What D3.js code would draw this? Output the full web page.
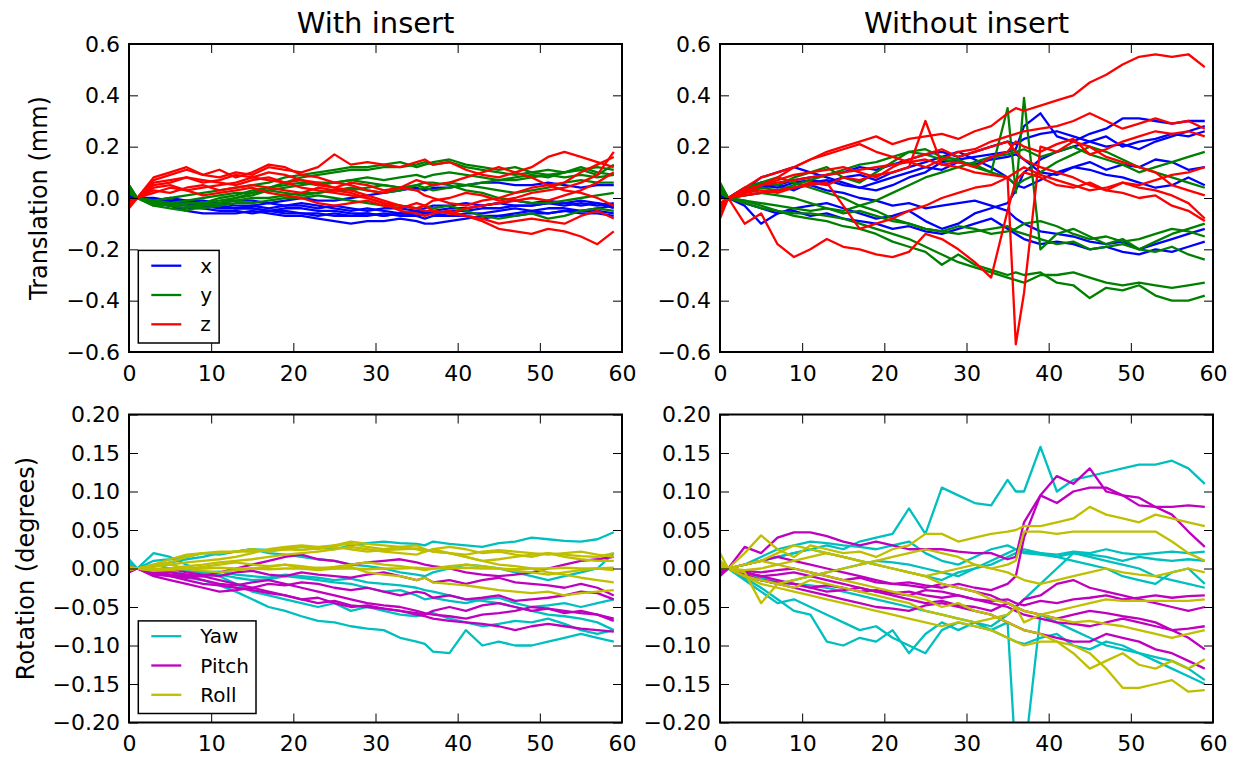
<!DOCTYPE html>
<html>
<head>
<meta charset="utf-8">
<script src="https://cdn.jsdelivr.net/npm/d3@7"></script>
<style>
body { margin: 0; background: #fff; }
svg { display: block; }
text { font-family: "DejaVu Sans", sans-serif; }
</style>
</head>
<body>
<svg id="chart" width="1239" height="758"></svg>
<script>
// sample times (s) shared by every trace
var seconds = [0,1,3,5,7,9,11,13,15,17,19,21,23,25,27,29,31,33,35,36,37,39,41,43,45,47,49,51,53,55,57,59];

var timeTicks = [0,10,20,30,40,50,60];
var transTicks = [-0.6,-0.4,-0.2,0,0.2,0.4,0.6];
var rotTicks = [-0.2,-0.15,-0.1,-0.05,0,0.05,0.1,0.15,0.2];

// translation values are in 0.01 mm, rotation values in 0.001 degrees
var transUnit = 0.01;
var rotUnit = 0.001;

var withX = [
  [1,0,-2,-3,-5,-6,-6,-6,-5,-6,-7,-7,-8,-9,-10,-9,-9,-8,-9,-10,-10,-9,-8,-7,-7,-6,-5,-6,-5,-6,-6,-7],
  [0,0,-1,-2,-2,-3,-4,-4,-4,-5,-5,-6,-6,-7,-7,-6,-7,-6,-7,-6,-6,-7,-6,-6,-5,-4,-5,-4,-4,-5,-5,-6],
  [2,0,0,-1,-1,-2,-2,-3,-3,-2,-3,-3,-4,-3,-4,-5,-4,-4,-5,-4,-3,-3,-2,-3,-2,-3,-3,-2,-3,-2,-3,-2],
  [-1,0,-1,0,-1,-1,-2,-1,-1,-2,-1,0,-1,-1,0,1,2,3,4,3,4,4,5,6,6,5,5,6,5,4,5,5],
  [0,0,-2,-3,-4,-4,-5,-5,-6,-5,-6,-6,-7,-6,-7,-7,-6,-7,-7,-8,-7,-7,-7,-8,-7,-7,-6,-6,-5,-5,-4,-3],
  [1,0,-1,-1,-2,-3,-3,-4,-4,-5,-4,-4,-5,-5,-6,-6,-7,-6,-6,-5,-6,-5,-5,-4,-4,-3,-3,-2,-2,-3,-2,-4],
  [0,0,-1,-2,-3,-2,-3,-4,-3,-4,-3,-2,-3,-4,-5,-4,-5,-6,-5,-6,-5,-4,-4,-3,-2,-1,-2,-1,-2,-1,-2,-3]
];
var withY = [
  [5,0,-3,-4,-5,-3,-2,0,2,4,6,8,9,10,11,11,12,12,13,14,13,14,12,11,10,9,10,11,10,11,12,11],
  [4,0,-2,-3,-4,-2,-1,0,1,3,4,5,6,6,7,8,7,8,9,8,9,10,9,8,7,8,9,8,10,11,9,13],
  [3,0,-2,-2,-3,-3,-2,-1,0,0,1,2,2,3,3,4,5,4,3,4,5,6,5,6,7,7,8,9,8,9,8,9],
  [5,0,-1,-2,-3,-4,-3,-2,-2,-1,0,0,1,0,-1,-2,-3,-3,-4,-3,-4,-3,-5,-7,-8,-7,-6,-8,-7,-5,-4,-5],
  [2,0,-3,-2,-1,0,1,2,2,3,2,1,2,3,4,3,2,3,5,4,3,4,5,4,3,2,3,4,6,7,6,6],
  [4,0,-2,-3,-2,-2,0,1,3,4,5,6,5,6,7,6,5,4,5,6,6,5,3,2,0,-1,-2,-2,-1,0,1,2],
  [3,0,-1,0,1,2,3,4,5,6,8,9,10,11,12,12,13,14,12,13,14,15,13,12,11,12,10,9,10,12,10,9]
];
var withZ = [
  [-3,0,7,9,11,9,8,10,9,12,11,10,12,17,13,14,13,12,14,15,13,14,11,9,8,10,12,16,18,16,14,12],
  [-2,0,5,6,8,7,6,5,7,8,6,4,3,2,1,0,-2,-3,-4,-5,-5,-6,-7,-9,-12,-13,-14,-12,-13,-15,-18,-13],
  [-3,0,4,5,3,4,5,6,8,10,9,7,6,4,3,1,-1,-3,-4,-3,-5,-6,-4,-3,-2,-1,0,-1,1,3,6,10],
  [-1,0,3,2,4,5,3,4,5,4,3,2,4,3,2,0,-2,-5,-6,-7,-6,-5,-7,-8,-10,-9,-8,-9,-10,-7,-5,-8],
  [-3,0,6,7,8,6,7,9,8,7,6,7,5,4,6,5,3,4,7,6,5,6,8,10,12,10,8,5,6,10,13,16],
  [-2,0,2,4,3,1,2,3,4,2,1,0,-2,-3,-2,-1,-3,-4,-2,-3,-1,0,2,1,-1,0,2,3,4,6,9,18],
  [-4,0,8,10,12,9,11,8,10,13,12,9,8,6,5,3,2,4,3,1,0,-2,-3,-1,0,2,4,5,3,2,0,-3]
];

var withoutX = [
  [3,0,3,8,10,12,10,8,6,4,3,5,8,10,14,15,16,17,18,19,28,33,24,22,25,27,31,31,30,29,30,30],
  [2,0,-3,-10,-6,-4,-3,-2,-4,-6,-8,-7,-5,-9,-12,-10,-6,-4,-2,3,10,15,18,20,22,24,20,22,23,25,24,26],
  [0,0,2,4,5,3,6,7,5,4,6,8,10,12,11,14,13,15,16,17,15,10,9,12,14,11,13,12,15,14,11,12],
  [1,0,-2,-4,-6,-5,-7,-6,-8,-9,-10,-12,-11,-13,-14,-12,-10,-8,-12,-14,-16,-18,-17,-18,-20,-19,-21,-22,-20,-21,-19,-17],
  [0,0,1,2,3,4,5,3,2,0,-1,-3,-2,-4,-3,-2,-1,-3,-5,-8,-10,-13,-14,-15,-17,-18,-17,-20,-18,-16,-14,-12],
  [2,0,3,5,4,6,7,6,8,9,7,10,12,14,16,18,15,12,8,5,4,7,10,12,11,9,8,6,4,5,8,5],
  [1,0,4,6,5,7,8,9,10,12,11,13,15,17,18,16,18,20,22,21,23,25,26,24,22,20,21,19,22,24,26,28]
];
var withoutY = [
  [6,0,-1,-3,-5,-6,-6,-7,-8,-10,-12,-14,-16,-19,-22,-25,-27,-29,-31,-32,-33,-30,-30,-29,-31,-33,-34,-33,-34,-35,-34,-33],
  [5,0,-2,-4,-5,-7,-8,-9,-11,-12,-14,-17,-19,-21,-26,-22,-26,-28,-30,-29,-30,-29,-33,-34,-39,-35,-36,-34,-38,-40,-40,-38],
  [3,0,3,6,5,8,10,12,8,6,10,14,18,19,16,15,12,10,35,2,39,-20,-14,-12,-15,-18,-16,-20,-17,-14,-12,-10],
  [2,0,4,6,8,6,4,2,0,-3,-5,-8,-10,-12,-13,-14,-13,-12,-11,-13,-14,-16,-18,-17,-20,-19,-18,-20,-21,-19,-22,-24],
  [4,0,-1,-2,-3,-4,-5,-4,-5,-3,-1,2,5,8,10,12,14,16,17,18,19,16,18,20,17,15,13,10,12,14,16,18],
  [5,0,1,2,1,0,-2,-4,-6,-5,-7,-9,-10,-12,-13,-11,-12,-14,-13,-12,-10,-9,-11,-14,-16,-15,-17,-16,-14,-12,-13,-15],
  [3,0,2,4,3,5,7,9,11,13,14,16,18,17,15,14,13,10,8,5,7,10,14,17,20,18,15,12,10,8,6,4]
];
var withoutZ = [
  [-8,0,2,5,8,12,15,18,20,22,24,21,23,24,25,23,26,28,33,35,34,36,38,40,45,48,52,55,56,55,56,51],
  [-5,0,3,5,6,7,8,9,10,11,12,13,14,15,13,12,10,9,8,-57,-37,20,18,22,20,16,14,12,10,5,3,1],
  [-6,0,-10,-6,-18,-23,-20,-16,-19,-20,-22,-23,-21,-14,-16,-20,-25,-31,-5,7,10,8,5,4,6,3,2,0,1,-3,-5,-9],
  [-2,0,4,8,10,12,15,17,19,21,18,16,14,12,15,18,19,22,24,25,26,27,28,30,33,30,27,29,31,29,30,27],
  [-4,0,3,5,7,9,10,11,12,10,8,12,15,17,19,16,18,20,22,18,15,12,10,8,5,3,6,4,3,1,-2,-8],
  [-3,0,2,3,2,4,6,5,8,7,9,10,12,30,13,14,12,16,18,22,20,18,21,23,17,19,22,24,26,25,26,24],
  [-5,0,1,2,3,4,5,6,-3,-12,-10,-8,-5,-3,0,2,4,5,8,10,12,9,7,5,3,4,6,5,7,9,10,12]
];

var withYaw = [
  [12,0,-5,-8,-12,-15,-22,-30,-40,-50,-55,-62,-68,-70,-75,-78,-80,-90,-95,-98,-108,-110,-80,-100,-95,-100,-100,-95,-90,-85,-90,-95],
  [5,0,20,15,5,-5,-10,-20,-30,-35,-40,-45,-50,-45,-55,-50,-55,-60,-62,-60,-58,-65,-70,-75,-72,-68,-70,-65,-72,-80,-85,-80],
  [0,0,10,12,15,20,18,22,25,24,26,28,27,25,30,33,35,33,32,30,35,32,30,28,33,35,40,38,36,35,38,47],
  [8,0,-5,-3,-8,-10,-8,-12,-15,-14,-10,-12,-15,-18,-20,-25,-30,-28,-35,-40,-38,-42,-45,-40,-38,-45,-50,-48,-45,-50,-45,-40],
  [3,0,5,0,-3,-5,-4,-8,-10,-12,-8,-10,-12,-15,-13,-18,-20,-22,-25,-28,-30,-35,-40,-42,-45,-50,-55,-60,-62,-65,-70,-80],
  [2,0,3,8,12,15,20,22,25,20,18,15,12,10,5,3,0,-5,-8,-10,-5,0,5,3,0,-5,-10,-15,-10,-5,0,20]
];
var withPitch = [
  [-5,0,-10,-15,-20,-25,-30,-28,-25,-30,-35,-40,-38,-45,-50,-48,-52,-55,-60,-62,-65,-68,-70,-72,-75,-80,-75,-72,-75,-78,-80,-82],
  [-3,0,-5,-8,-10,-15,-20,-22,-18,-15,-20,-25,-30,-35,-40,-45,-48,-50,-55,-58,-60,-62,-65,-60,-58,-55,-50,-52,-55,-58,-60,-68],
  [0,0,-3,-5,-8,-10,-5,0,5,10,15,18,12,10,5,8,10,12,8,5,3,0,-5,-8,-10,-8,-5,0,5,10,12,15],
  [-2,0,-8,-10,-15,-20,-22,-25,-28,-32,-35,-40,-45,-42,-48,-50,-52,-55,-58,-60,-55,-50,-55,-48,-45,-50,-55,-52,-58,-55,-60,-65],
  [2,0,-2,0,-5,-8,-10,-5,-3,-8,-10,-5,-8,-10,-12,-8,-5,-10,-15,-12,-18,-15,-20,-15,-12,-18,-20,-22,-25,-20,-25,-35],
  [-1,0,-5,-10,-12,-10,-15,-20,-25,-20,-22,-18,-20,-25,-28,-25,-30,-35,-30,-32,-38,-35,-40,-38,-35,-42,-40,-38,-35,-30,-32,-40]
];
var withRoll = [
  [0,0,5,12,18,20,22,22,25,22,25,28,25,30,35,32,30,28,25,22,25,28,25,20,22,18,15,20,18,16,15,20],
  [0,0,3,5,8,10,12,15,20,25,28,30,28,30,32,28,25,28,30,25,22,20,15,10,12,15,18,20,15,12,10,10],
  [0,0,-3,-2,0,2,5,8,5,3,5,0,-2,0,2,-5,-8,-10,-15,-12,-18,-20,-22,-25,-28,-30,-32,-30,-35,-32,-30,-28],
  [2,0,-2,0,3,5,8,10,12,15,18,20,22,25,28,25,22,20,18,22,25,20,15,10,5,3,0,-5,-8,-12,-15,-18],
  [-2,0,2,5,0,-3,-5,-2,0,2,5,3,0,2,5,8,5,3,0,-2,0,3,5,3,0,-3,-5,-8,-5,-2,0,-2],
  [0,0,-1,0,-1,0,1,0,0,-1,0,0,1,0,0,-1,0,0,1,0,0,0,1,0,0,-1,0,0,1,0,0,1],
  [1,0,3,8,15,20,20,22,22,24,25,24,26,28,25,22,24,25,26,25,22,20,18,22,24,22,20,18,20,22,18,15]
];

var withoutYaw = [
  [10,0,5,10,15,20,25,30,25,35,40,45,78,45,105,95,85,82,115,100,100,158,100,115,120,125,130,135,135,140,130,110],
  [0,0,-15,-30,-45,-40,-50,-60,-70,-80,-75,-90,-100,-110,-80,-70,-75,-80,-70,-250,-250,-60,-70,-80,-90,-100,-105,-110,-120,-130,-140,-150],
  [5,0,-12,-25,-40,-55,-60,-95,-100,-90,-95,-80,-110,-85,-70,-80,-70,-75,-60,-50,-40,-20,0,20,15,10,5,0,-10,-15,-20,-25],
  [0,0,5,15,25,30,35,33,30,28,25,30,35,20,10,5,15,25,30,25,22,20,18,22,20,25,20,18,20,22,20,22],
  [-5,0,-10,-15,-20,-15,-10,-5,0,5,10,8,5,0,-5,-10,0,10,20,25,20,18,15,20,18,15,10,15,12,10,12,10],
  [3,0,-8,-12,-18,-20,-22,-25,-30,-35,-40,-45,-50,-55,-60,-65,-70,-80,-90,-95,-98,-90,-85,-100,-105,-95,-100,-110,-115,-120,-130,-145],
  [2,0,5,10,15,20,25,20,15,10,5,0,-5,-10,-15,-5,0,5,15,20,25,20,15,10,5,0,-10,-15,-20,-5,0,-20]
];
var withoutPitch = [
  [-10,0,28,20,40,47,47,42,35,30,35,30,25,25,25,22,20,20,12,15,60,95,120,110,130,100,95,92,80,70,48,28],
  [-5,0,5,10,15,10,5,0,-5,-10,-15,-20,-18,-22,-25,-20,-25,-28,-20,-10,40,95,85,100,105,105,95,82,80,80,82,80],
  [0,0,-10,-15,-20,-25,-30,-35,-40,-45,-50,-52,-55,-48,-45,-50,-55,-60,-70,-75,-80,-85,-90,-95,-95,-85,-90,-95,-105,-110,-120,-130],
  [-8,0,-5,-10,-8,-5,-10,-15,-20,-25,-30,-35,-40,-45,-42,-48,-50,-55,-45,-50,-40,-35,-20,-15,-25,-30,-35,-40,-45,-50,-55,-50],
  [-2,0,-5,-10,-15,-20,-25,-30,-28,-25,-30,-32,-35,-28,-30,-35,-40,-45,-50,-55,-60,-65,-70,-72,-75,-70,-65,-70,-75,-80,-78,-75],
  [0,0,-3,-5,-2,0,-5,-10,-15,-12,-18,-20,-22,-25,-20,-25,-30,-35,-45,-50,-55,-60,-65,-60,-55,-58,-62,-65,-70,-80,-90,-105],
  [-3,0,-8,-15,-18,-20,-25,-22,-25,-30,-28,-32,-30,-35,-38,-35,-40,-42,-40,-45,-48,-42,-45,-40,-38,-35,-40,-38,-35,-38,-36,-35]
];
var withoutRoll = [
  [20,0,20,43,25,15,30,25,20,22,15,25,30,45,45,35,40,45,48,50,55,55,60,65,80,70,65,60,70,65,60,55],
  [10,0,-5,-45,-20,-15,-10,-5,0,5,10,15,20,25,20,15,5,0,5,10,48,48,45,48,48,48,48,48,48,35,20,10],
  [0,0,-10,-20,-25,-30,-35,-40,-45,-50,-55,-60,-65,-70,-75,-70,-75,-80,-90,-95,-100,-95,-95,-100,-110,-130,-155,-155,-150,-145,-160,-158],
  [5,0,5,10,5,0,-5,-10,-15,-20,-25,-30,-35,-40,-50,-45,-55,-60,-70,-75,-80,-85,-95,-110,-130,-120,-110,-125,-130,-120,-130,-118],
  [0,0,-10,-15,-20,-25,-15,-20,-25,-30,-35,-40,-45,-55,-60,-65,-70,-65,-60,-50,-70,-60,-55,-50,-45,-40,-42,-42,-42,-42,-42,-40],
  [0,0,-2,0,5,10,15,20,15,10,5,0,-5,-10,-20,-25,-30,-40,-45,-50,-55,-60,-65,-70,-68,-72,-75,-80,-85,-90,-85,-80],
  [5,0,5,10,20,30,25,20,15,10,5,0,-5,-10,-5,0,5,0,-5,-10,-15,-20,-15,-10,-5,0,-5,-8,-10,-5,0,-5]
];

var transNames = ['x', 'y', 'z'];
var rotNames = ['Yaw', 'Pitch', 'Roll'];
var transColors = ['#0000ff', '#008000', '#ff0000'];
var rotColors = ['#00bfbf', '#bf00bf', '#bfbf00'];

var svg = d3.select('#chart');
var plotW = 493, plotH = 308;
var colX = [129, 720];
var rowY = [44, 414.5];

var panels = [
  {col: 0, row: 0, data: [withX, withY, withZ], unit: transUnit, ticks: transTicks, fmt: '.1f',
    colors: transColors, names: transNames, title: 'With insert', ylabel: 'Translation (mm)', labelX: 38},
  {col: 1, row: 0, data: [withoutX, withoutY, withoutZ], unit: transUnit, ticks: transTicks, fmt: '.1f',
    colors: transColors, title: 'Without insert'},
  {col: 0, row: 1, data: [withYaw, withPitch, withRoll], unit: rotUnit, ticks: rotTicks, fmt: '.2f',
    colors: rotColors, names: rotNames, ylabel: 'Rotation (degrees)', labelX: 25},
  {col: 1, row: 1, data: [withoutYaw, withoutPitch, withoutRoll], unit: rotUnit, ticks: rotTicks, fmt: '.2f',
    colors: rotColors}
];

function styleAxis(a) {
  a.attr('font-size', 22).attr('font-family', '"DejaVu Sans", sans-serif');
  a.select('.domain').remove();
  a.selectAll('.tick line').attr('stroke', '#000').attr('stroke-width', 1);
  a.selectAll('.tick text').attr('fill', '#000');
}

panels.forEach(function(p) {
  var g = svg.append('g').attr('transform', 'translate(' + colX[p.col] + ',' + rowY[p.row] + ')');
  var x = d3.scaleLinear().domain([0, 60]).range([0, plotW]);
  var y = d3.scaleLinear().domain([p.ticks[0], p.ticks[p.ticks.length - 1]]).range([plotH, 0]);

  var clipId = 'clip' + p.col + p.row;
  g.append('clipPath').attr('id', clipId)
    .append('rect').attr('width', plotW).attr('height', plotH);

  var line = d3.line()
    .defined(function(d, i) { return i < seconds.length; })
    .x(function(d, i) { return x(seconds[i]); })
    .y(function(d) { return y(d * p.unit); });

  var traces = g.append('g').attr('clip-path', 'url(#' + clipId + ')');
  p.data.forEach(function(set, k) {
    traces.selectAll(null)
      .data(set)
      .enter()
      .append('path')
      .attr('d', line)
      .attr('fill', 'none')
      .attr('stroke', p.colors[k])
      .attr('stroke-width', 2.3)
      .attr('stroke-linejoin', 'round');
  });

  // inward ticks on all four sides
  g.append('g').call(d3.axisLeft(y).tickValues(p.ticks).tickSize(-9).tickPadding(9)
    .tickFormat(d3.format(p.fmt))).call(styleAxis);
  g.append('g').attr('transform', 'translate(' + plotW + ',0)')
    .call(d3.axisRight(y).tickValues(p.ticks).tickSize(-9).tickFormat('')).call(styleAxis);
  g.append('g').attr('transform', 'translate(0,' + plotH + ')')
    .call(d3.axisBottom(x).tickValues(timeTicks).tickSize(-9).tickPadding(13)
    .tickFormat(d3.format('d'))).call(styleAxis);
  g.append('g')
    .call(d3.axisTop(x).tickValues(timeTicks).tickSize(-9).tickFormat('')).call(styleAxis);

  g.append('rect')
    .attr('width', plotW).attr('height', plotH)
    .attr('fill', 'none').attr('stroke', '#000').attr('stroke-width', 2);

  if (p.title) {
    svg.append('text')
      .attr('x', colX[p.col] + plotW / 2).attr('y', 33)
      .attr('text-anchor', 'middle').attr('font-size', 29)
      .text(p.title);
  }
  if (p.ylabel) {
    svg.append('text')
      .attr('transform', 'translate(' + p.labelX + ',' + (rowY[p.row] + plotH / 2) + ') rotate(-90)')
      .attr('text-anchor', 'middle').attr('dy', '0.36em').attr('font-size', 24)
      .text(p.ylabel);
  }
  if (p.names) {
    var lg = g.append('g').attr('transform', 'translate(9.3,' + (plotH - 101.6) + ')');
    var box = lg.append('rect').attr('height', 92.6)
      .attr('fill', '#fff').attr('stroke', '#000').attr('stroke-width', 1.5);
    var maxW = 0;
    p.names.forEach(function(name, k) {
      var ry = 15.3 + k * 29.3;
      lg.append('line').attr('x1', 13).attr('x2', 43).attr('y1', ry).attr('y2', ry)
        .attr('stroke', p.colors[k]).attr('stroke-width', 2.3);
      var t = lg.append('text').attr('x', 62).attr('y', ry).attr('dy', '0.36em')
        .attr('font-size', 20).text(name);
      maxW = Math.max(maxW, t.node().getComputedTextLength());
    });
    box.attr('width', 62 + maxW + 7);
  }
});
</script>
</body>
</html>
